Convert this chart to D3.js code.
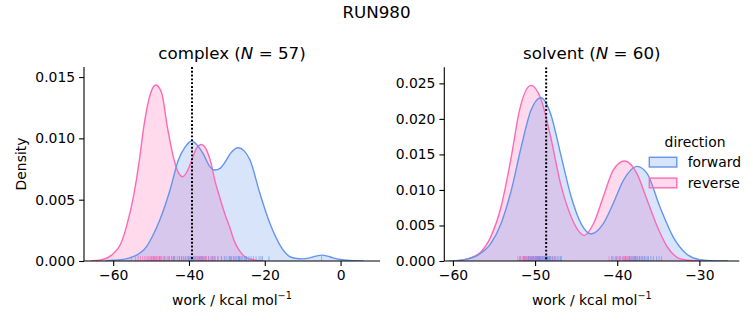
<!DOCTYPE html>
<html>
<head>
<meta charset="utf-8">
<script src="https://cdn.jsdelivr.net/npm/d3@7"></script>
<style>
  body { margin: 0; background: #fff; }
  svg { display: block; font-family: "DejaVu Sans", sans-serif; }
</style>
</head>
<body>
<svg id="chart" width="753" height="325"></svg>
<script>
// ---------------- data ----------------
const figureTitle = "RUN980";
const directions = ["forward", "reverse"];

// KDE curves as [work, density] pairs
const complexForwardKde = [[-62,0.00003],[-60,0.00006],[-57,0.00015],[-54.7,0.00035],[-51.2,0.00117],[-49.5,0.0021],[-47.7,0.00334],[-45,0.00579],[-42.8,0.00823],[-41,0.0093],[-39.3,0.00978],[-38,0.0095],[-36.3,0.00878],[-34.5,0.0077],[-33.2,0.00742],[-31.8,0.00756],[-30.2,0.0082],[-29,0.0088],[-27,0.00924],[-25.5,0.0090],[-23.9,0.00823],[-21.3,0.00552],[-18.65,0.00307],[-16,0.0013],[-13.4,0.00035],[-12,0.00022],[-10,0.00017],[-8,0.00027],[-6.5,0.0004],[-5,0.00048],[-3.5,0.0004],[-2,0.00026],[0,0.00012],[2.5,0.00004],[6,0]];
const complexReverseKde = [[-66,0],[-63,0.0001],[-60,0.0006],[-58,0.0014],[-56.5,0.0028],[-54.5,0.0055],[-53.1,0.0082],[-51.9,0.0110],[-50.1,0.0137],[-48.8,0.01435],[-47.2,0.0137],[-45.75,0.0110],[-43.9,0.0082],[-42.6,0.0071],[-41.7,0.00687],[-40.5,0.0073],[-39.3,0.0082],[-38,0.0092],[-36.7,0.0095],[-35.3,0.0090],[-34.2,0.0080],[-33.2,0.0066],[-31.9,0.0052],[-30.6,0.0039],[-29.2,0.0027],[-28,0.0016],[-26.6,0.0008],[-25,0.0003],[-23,0.0001],[-20,0]];
const solventForwardKde = [[-60.5,0],[-58.6,0.0002],[-57,0.0008],[-55.4,0.00244],[-54.15,0.00525],[-52.9,0.00994],[-51.7,0.0160],[-50.5,0.0212],[-49.3,0.02298],[-48.1,0.0207],[-46.9,0.0151],[-45.6,0.0090],[-44.4,0.00525],[-43.2,0.0038],[-41.7,0.00525],[-40.5,0.00806],[-39.25,0.01135],[-37.6,0.01332],[-36.35,0.01229],[-34.8,0.0076],[-33.2,0.0034],[-31.6,0.00103],[-30,0.0002],[-28,0.00002],[-26.5,0]];
const solventReverseKde = [[-60,0],[-59.4,0.00005],[-57.8,0.00047],[-56.6,0.00127],[-55.4,0.0034],[-54.15,0.0076],[-52.9,0.01463],[-51.9,0.0212],[-50.5,0.02472],[-49.3,0.02284],[-48.1,0.01745],[-46.9,0.01088],[-45.6,0.0062],[-44.4,0.00384],[-44.0,0.0036],[-42.9,0.00525],[-41.7,0.0090],[-40.5,0.01276],[-39.1,0.01407],[-37.6,0.01229],[-36.35,0.00854],[-35.1,0.00478],[-33.9,0.00197],[-32.3,0.0003],[-30.6,0.00003],[-29,0]];

// rug samples (work values)
const complexForwardRug = [-49.3,-47.8,-46.5,-45.2,-44.6,-44.0,-43.9,-43.1,-42.5,-42.0,-41.9,-41.4,-40.9,-40.5,-40.1,-39.8,-39.5,-39.2,-38.9,-38.6,-38.2,-37.7,-37.1,-36.8,-36.4,-35.6,-34.8,-34.0,-33.6,-33.2,-32.4,-31.5,-30.7,-30.0,-29.4,-29.0,-28.8,-28.3,-27.8,-27.4,-27.0,-26.9,-26.6,-26.2,-25.8,-25.3,-25.0,-24.8,-24.2,-23.6,-23.0,-22.3,-21.5,-21.0,-20.6,-18.9,-5.0];
const complexReverseRug = [-55.2,-54.1,-53.4,-52.8,-52.2,-51.7,-51.3,-50.9,-50.6,-50.3,-50.0,-49.7,-49.4,-49.1,-48.8,-48.5,-48.2,-47.9,-47.6,-47.2,-46.8,-46.3,-45.8,-45.2,-44.5,-43.7,-42.6,-41.3,-40.2,-39.4,-38.8,-38.3,-37.9,-37.5,-37.1,-36.8,-36.5,-36.2,-35.8,-35.4,-34.9,-34.4,-33.8,-33.1,-32.3,-31.4,-30.5,-29.3,-28.1,-26.6,-49.9,-48.6,-47.4,-37.3,-36.0,-45.5,-44.0];
const solventForwardRug = [-51.8,-51.4,-51.1,-50.8,-50.6,-50.4,-50.3,-50.2,-50.0,-49.9,-49.8,-49.7,-49.6,-49.5,-49.45,-49.4,-49.3,-49.2,-49.1,-49.0,-48.9,-48.8,-48.7,-48.6,-48.5,-48.4,-48.3,-48.2,-48.1,-47.9,-47.7,-47.5,-47.3,-47.1,-46.9,-46.8,-40.6,-40.1,-39.7,-39.3,-39.0,-38.7,-38.5,-38.3,-38.1,-37.9,-37.8,-37.7,-37.5,-37.3,-37.1,-36.9,-36.7,-36.5,-36.2,-35.9,-35.6,-35.2,-34.9,-34.6];
const solventReverseRug = [-52.1,-51.9,-51.7,-51.5,-51.4,-51.3,-51.25,-51.2,-51.1,-51.0,-50.9,-50.85,-50.8,-50.7,-50.6,-50.55,-50.5,-50.4,-50.3,-50.2,-50.1,-50.0,-49.9,-49.8,-49.7,-49.6,-49.5,-49.4,-49.3,-49.1,-48.9,-48.7,-48.5,-48.2,-47.9,-47.6,-41.0,-40.7,-40.4,-40.2,-40.0,-39.8,-39.6,-39.4,-39.2,-39.1,-39.0,-38.9,-38.8,-38.6,-38.5,-38.4,-38.2,-38.0,-37.8,-37.6,-37.3,-37.0,-36.7,-36.3];

// dotted reference lines
const complexMarker = -39.2;
const solventMarker = -48.65;

// ticks
const complexXTicks = [-60, -40, -20, 0];
const complexYTicks = [0, 0.005, 0.010, 0.015];
const solventXTicks = [-60, -50, -40, -30];
const solventYTicks = [0, 0.005, 0.010, 0.015, 0.020, 0.025];

// ---------------- drawing ----------------
const colors = { forward: "#6495ED", reverse: "#FF69B4" };
const svg = d3.select("#chart");
const minus = s => s.replace("-", "\u2212");

svg.append("text").attr("x", 376.5).attr("y", 18.3).attr("text-anchor", "middle")
  .attr("font-size", 16.7).attr("fill", "#000").text(figureTitle);

const panels = [
  { name: "complex", n: 57, left: 84, right: 380, top: 67, bottom: 261,
    xDomain: [-67.7, 10.4], yDomain: [0, 0.01582],
    kde: { forward: complexForwardKde, reverse: complexReverseKde },
    rug: { forward: complexForwardRug, reverse: complexReverseRug },
    marker: complexMarker, xTicks: complexXTicks, yTicks: complexYTicks, ylabel: true, legend: false },
  { name: "solvent", n: 60, left: 444.3, right: 739.3, top: 67.3, bottom: 261,
    xDomain: [-61.05, -25.14], yDomain: [0, 0.02726],
    kde: { forward: solventForwardKde, reverse: solventReverseKde },
    rug: { forward: solventForwardRug, reverse: solventReverseRug },
    marker: solventMarker, xTicks: solventXTicks, yTicks: solventYTicks, ylabel: false, legend: true }
];

panels.forEach((p, i) => {
  const x = d3.scaleLinear().domain(p.xDomain).range([p.left, p.right]);
  const y = d3.scaleLinear().domain(p.yDomain).range([p.bottom, p.top]);
  const g = svg.append("g");
  const clipId = "clip" + i;
  svg.append("clipPath").attr("id", clipId).append("rect")
    .attr("x", p.left).attr("y", p.top).attr("width", p.right - p.left).attr("height", p.bottom - p.top);
  const plot = g.append("g").attr("clip-path", `url(#${clipId})`);

  const area = d3.area().x(d => x(d[0])).y0(y(0)).y1(d => y(d[1])).curve(d3.curveMonotoneX);
  const line = d3.line().x(d => x(d[0])).y(d => y(d[1])).curve(d3.curveMonotoneX);

  ["reverse", "forward"].forEach(dir => {
    plot.append("path").datum(p.kde[dir]).attr("d", area)
      .attr("fill", colors[dir]).attr("fill-opacity", 0.25).attr("stroke", "none");
  });
  ["reverse", "forward"].forEach(dir => {
    plot.append("path").datum(p.kde[dir]).attr("d", line)
      .attr("fill", "none").attr("stroke", colors[dir]).attr("stroke-width", 1.4);
  });

  // rugs
  const rugH = 0.025 * (p.bottom - p.top);
  ["reverse", "forward"].forEach(dir => {
    plot.append("g").selectAll("line").data(p.rug[dir]).join("line")
      .attr("x1", d => x(d)).attr("x2", d => x(d))
      .attr("y1", p.bottom).attr("y2", p.bottom - rugH)
      .attr("stroke", colors[dir]).attr("stroke-width", 1).attr("stroke-opacity", 0.65);
  });

  // marker
  plot.append("line").attr("x1", x(p.marker)).attr("x2", x(p.marker))
    .attr("y1", p.top).attr("y2", p.bottom)
    .attr("stroke", "#000").attr("stroke-width", 2).attr("stroke-dasharray", "1.9,1.9");

  // axes
  const xAxis = d3.axisBottom(x).tickValues(p.xTicks).tickSize(4.9).tickPadding(4)
    .tickFormat(d => minus(d3.format("d")(d)));
  const yAxis = d3.axisLeft(y).tickValues(p.yTicks).tickSize(4.9).tickPadding(4)
    .tickFormat(d => d3.format(".3f")(d));
  const gx = g.append("g").attr("transform", `translate(0,${p.bottom})`).call(xAxis);
  const gy = g.append("g").attr("transform", `translate(${p.left},0)`).call(yAxis);
  [gx, gy].forEach(ax => {
    ax.select(".domain").attr("stroke", "#000").attr("stroke-width", 1.1);
    ax.selectAll(".tick line").attr("stroke", "#000").attr("stroke-width", 1.1);
    ax.selectAll(".tick text").attr("font-size", 13.9).attr("fill", "#000")
      .attr("font-family", "DejaVu Sans, sans-serif");
  });
  gx.select(".domain").attr("d", `M${p.left},0H${p.right}`);
  gy.select(".domain").attr("d", `M0,${p.bottom}V${p.top}`);

  // x label
  const xl = g.append("text").attr("x", (p.left + p.right) / 2).attr("y", 304.5)
    .attr("text-anchor", "middle").attr("font-size", 13.9).attr("fill", "#000");
  xl.append("tspan").text("work / kcal mol");
  xl.append("tspan").attr("dy", -5.5).attr("font-size", 9.7).text("\u22121");

  // y label
  if (p.ylabel) {
    g.append("text").attr("transform", `translate(26,${(p.top + p.bottom) / 2}) rotate(-90)`)
      .attr("text-anchor", "middle").attr("font-size", 13.9).attr("fill", "#000").text("Density");
  }

  // title
  const t = g.append("text").attr("x", (p.left + p.right) / 2).attr("y", 59.3)
    .attr("text-anchor", "middle").attr("font-size", 16.7).attr("fill", "#000");
  t.append("tspan").text(p.name + " (");
  t.append("tspan").attr("font-style", "italic").text("N");
  t.append("tspan").text(" = " + p.n + ")");

  // legend
  if (p.legend) {
    const lg = svg.append("g");
    lg.append("text").attr("x", 695).attr("y", 146.8).attr("text-anchor", "middle")
      .attr("font-size", 13.9).attr("fill", "#000").text("direction");
    directions.forEach((dir, k) => {
      const yy = 157.3 + k * 20.8;
      lg.append("rect").attr("x", 649.3).attr("y", yy).attr("width", 27.5).attr("height", 9.7)
        .attr("fill", colors[dir]).attr("fill-opacity", 0.25)
        .attr("stroke", colors[dir]).attr("stroke-width", 1.4);
      lg.append("text").attr("x", 687.7).attr("y", yy + 9.9)
        .attr("font-size", 13.9).attr("fill", "#000").text(dir);
    });
  }
});
</script>
</body>
</html>
